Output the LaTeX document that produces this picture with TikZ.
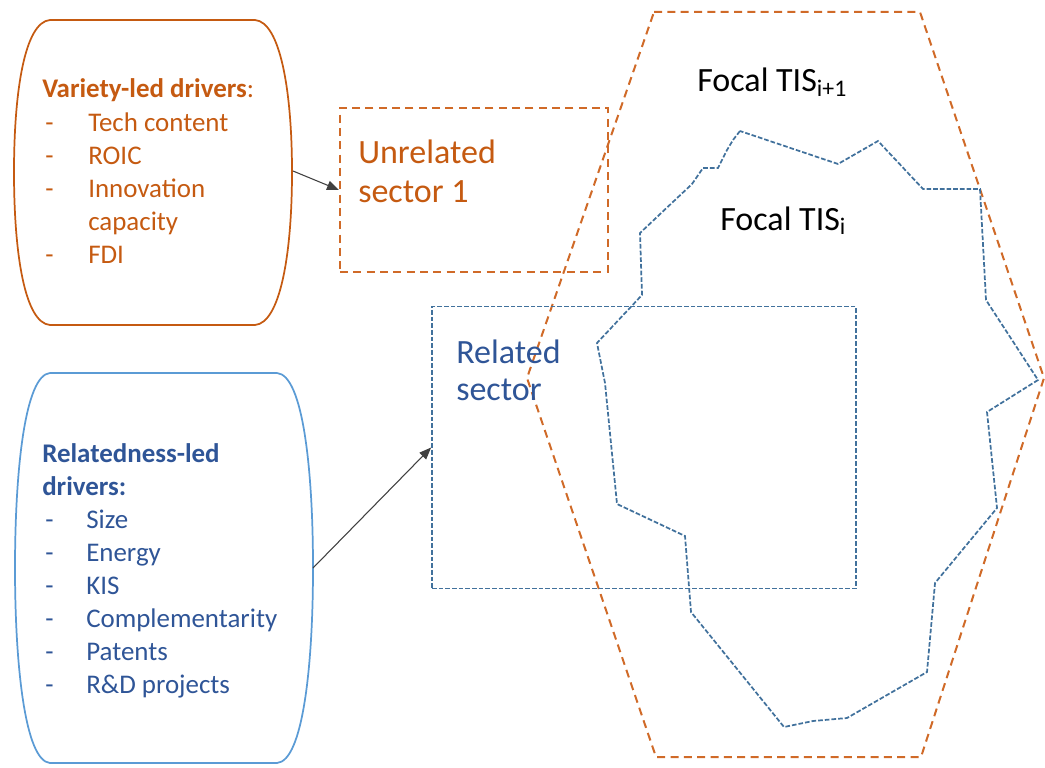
\documentclass[tikz,border=0pt]{standalone}
\usepackage{fontspec}
\setmainfont{Carlito}
\usetikzlibrary{arrows.meta}
\definecolor{varorange}{HTML}{C55A11}
\definecolor{dashorange}{HTML}{D06A28}
\definecolor{relblue}{HTML}{2F5597}
\definecolor{edgeblue}{HTML}{5B9BD5}
\definecolor{dashblue}{HTML}{41719C}
\tikzset{
  orangedash/.style={draw=dashorange, line width=1.5pt, dash pattern=on 6pt off 4pt},
  bluedash/.style={draw=dashblue, line width=1.3pt, dash pattern=on 3.5pt off 1.5pt},
  drvtext/.style={anchor=base west, inner sep=0pt, font=\fontsize{20.2}{24}\selectfont},
  bigtext/.style={anchor=base west, inner sep=0pt, font=\fontsize{25.5}{30}\selectfont},
  link/.style={-{Triangle[length=9pt,width=7pt]}, draw=black!75, line width=0.8pt}
}
\begin{document}
\begin{tikzpicture}[x=0.75pt, y=-0.75pt]
  \useasboundingbox (0,0) rectangle (1045,767);
  \draw [orangedash] (654,12) -- (920,12) -- (1044,378) -- (921,757) -- (656,757) -- (527,378) -- cycle;
  \draw [bluedash] (740,131) -- (733,140) -- (727,150) -- (718,168) -- (703,168) -- (692,184)
        -- (640,233) -- (642,295) -- (597,343) -- (605,383) -- (617,504) -- (685,536)
        -- (691,612) -- (784,727) -- (813,721) -- (847,718) -- (927,672) -- (935,583)
        -- (997,508) -- (987,412) -- (1038,380) -- (986,300) -- (980,189) -- (923,189)
        -- (878,141) -- (838,164) -- cycle;
  \draw (474,190) node (unrel) [orangedash, minimum width=201pt, minimum height=123pt, inner sep=0pt] {};
  \draw (644,447.5) node (rel) [bluedash, minimum width=318pt, minimum height=211.5pt, inner sep=0pt] {};
  \draw (358,163) node (unrel_a) [bigtext, varorange] {Unrelated};
  \draw (358,202) node (unrel_b) [bigtext, varorange] {sector 1};
  \draw (456,363) node (rel_a) [bigtext, relblue] {Related};
  \draw (456,400) node (rel_b) [bigtext, relblue] {sector};
  \draw (697,92) node (tis_next) [bigtext] {Focal TIS\textsubscript{i+1}};
  \draw (720,230) node (tis_i) [bigtext] {Focal TIS\textsubscript{i}};
  \begin{scope}[varorange]
    \draw [line width=1.3pt] (50,20) -- (255,20) .. controls (280,22) and (292,90) .. (292,172)
          .. controls (292,255) and (280,323) .. (255,325) -- (50,325)
          .. controls (25,323) and (14,255) .. (14,172) .. controls (14,90) and (25,22) .. (50,20) -- cycle;
    \coordinate (var_out) at (293,171);
    \draw (42,98) node (var_head) [drvtext] {\textbf{Variety-led drivers}:};
    \foreach \y/\t in {131/Tech content, 164/ROIC, 197/Innovation, 263/FDI} {
      \draw (45,\y) node (var_d\y) [drvtext] {-};
      \draw (88,\y) node (var_i\y) [drvtext] {\t};
    }
    \draw (88,230) node (var_cap) [drvtext] {capacity};
  \end{scope}
  \begin{scope}[relblue]
    \draw [edgeblue, line width=1.3pt] (50,373) -- (277,373) .. controls (303,375) and (313,470) .. (313,568)
          .. controls (313,665) and (303,761) .. (277,763) -- (50,763)
          .. controls (25,761) and (15,665) .. (15,568) .. controls (15,470) and (25,375) .. (50,373) -- cycle;
    \coordinate (rel_out) at (313,568);
    \draw (42,462) node (rel_head) [drvtext] {\textbf{Relatedness-led}};
    \draw (42,495) node (rel_head2) [drvtext] {\textbf{drivers:}};
    \foreach \y/\t in {528/Size, 561/Energy, 594/KIS, 627/Complementarity, 660/Patents, 693/R\&D projects} {
      \draw (45,\y) node (rel_d\y) [drvtext] {-};
      \draw (86,\y) node (rel_i\y) [drvtext] {\t};
    }
  \end{scope}
  \draw [link] (var_out) -- (unrel.west);
  \draw [link] (rel_out) -- (rel.west);
\end{tikzpicture}
\end{document}
